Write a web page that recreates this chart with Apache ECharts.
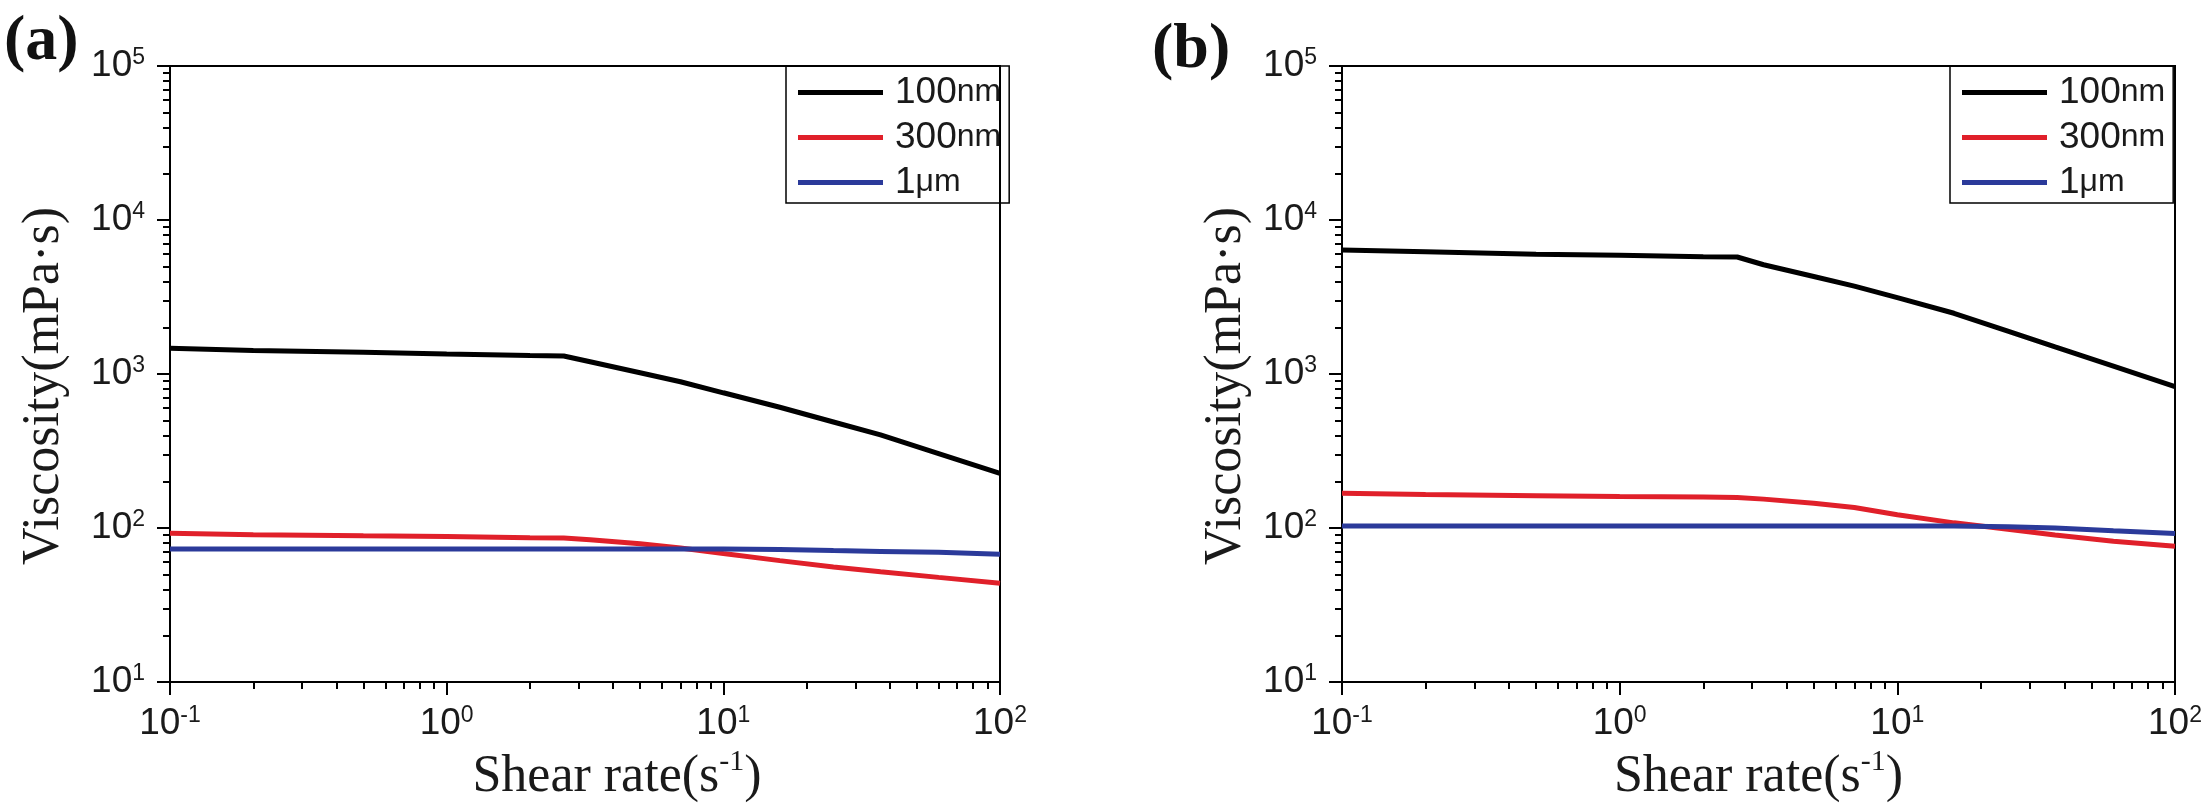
<!DOCTYPE html>
<html><head><meta charset="utf-8">
<script src="https://cdn.jsdelivr.net/npm/echarts@6/dist/echarts.min.js"></script>
<style>html,body{margin:0;padding:0;background:#fff}#c{width:2205px;height:809px}</style>
</head><body><div id="c"></div>
<script>
// ---- data ----
const shearRate = [0.1, 0.2, 0.5, 1, 2, 2.65, 3.3, 5, 7, 10, 16, 25, 37, 60, 100];
// panel (a)
const a_100nm = [1469, 1420, 1385, 1350, 1318, 1310, 1202, 1019, 891, 755, 608, 488, 402, 304, 226];
const a_300nm = [92.5, 90.5, 89, 88, 86.5, 86, 84, 78.9, 74.2, 68.2, 61.4, 55.8, 52, 47.8, 43.8];
const a_1um   = [73.1, 73.1, 73.1, 73.1, 73.1, 73.1, 73.1, 73.1, 73.1, 73, 72.5, 71.3, 70.5, 69.5, 67.5];
// panel (b)
const b_100nm = [6380, 6220, 6000, 5900, 5780, 5750, 5120, 4300, 3720, 3130, 2480, 1900, 1500, 1125, 828];
const b_300nm = [168, 165, 162, 160, 159, 158, 154, 145, 136, 122, 108, 98, 90, 82, 76];
const b_1um   = [103, 103, 103, 103, 103, 103, 103, 103, 103, 103, 103, 102, 100, 96, 92];

const seriesNames = ['100nm', '300nm', '1μm'];
const seriesColors = ['#000000', '#e0202a', '#2b3a9a'];
const panelLabels = ['(a)', '(b)'];
const xTitle = 'Shear rate';
const yTitle = 'Viscosity(mPa·s)';
const xRange = [0.1, 100];
const yRange = [10, 100000];
const xMinorTicks = [0.2,0.3,0.4,0.5,0.6,0.7,0.8,0.9, 2,3,4,5,6,7,8,9, 20,30,40,50,60,70,80,90];
const yMinorTicks = [20,30,40,50,60,70,80,90, 200,300,400,500,600,700,800,900,
                     2000,3000,4000,5000,6000,7000,8000,9000, 20000,30000,40000,50000,60000,70000,80000,90000];

// ---- styling / layout ----
const SANS = "'Liberation Sans', Arial, sans-serif";
const NARROW = "'Liberation Sans Narrow', 'Liberation Sans', Arial, sans-serif";
const SERIF = "'Liberation Serif', 'Times New Roman', serif";
const TXT = '#1a1a1a';

const grids = [
  {left: 170, right: 1205, top: 66, bottom: 127},
  {left: 1342, right: 30, top: 66, bottom: 127}
];
const yNameGap = [100, 90];
const xNamePad = [[0,0,0,64],[0,0,0,0]];

const tickRich = {
  b: {fontSize: 37, fontFamily: SANS, color: TXT, lineHeight: 40},
  s: {fontSize: 23, fontFamily: SANS, color: TXT, lineHeight: 22, verticalAlign: 'top'}
};
function powLabel(v) {
  const e = Math.round(Math.log10(v));
  return '{b|10}{s|' + e + '}';
}

const xAxis = [], yAxis = [];
grids.forEach((g, i) => {
  xAxis.push({
    type: 'log', logBase: 10, gridIndex: i, min: xRange[0], max: xRange[1], position: 'bottom',
    axisLine: {onZero: false, lineStyle: {color: '#000', width: 2}},
    axisTick: {length: 13, lineStyle: {color: '#000', width: 2}},
    axisLabel: {margin: 22, formatter: powLabel, rich: tickRich},
    splitLine: {show: false},
    name: '{t|' + xTitle + '(s}{s|-1}{t|)}',
    nameLocation: 'middle', nameGap: 64,
    nameTextStyle: {padding: xNamePad[i], rich: {
      t: {fontSize: 52, fontFamily: SERIF, color: TXT, lineHeight: 60},
      s: {fontSize: 30, fontFamily: SERIF, color: TXT, lineHeight: 30, verticalAlign: 'top'}
    }}
  });
  xAxis.push({
    type: 'log', logBase: 10, gridIndex: i, min: xRange[0], max: xRange[1], position: 'bottom',
    axisLine: {show: false, onZero: false},
    axisTick: {length: 7, customValues: xMinorTicks, lineStyle: {color: '#000', width: 2}},
    axisLabel: {show: false}, splitLine: {show: false}
  });
  yAxis.push({
    type: 'log', logBase: 10, gridIndex: i, min: yRange[0], max: yRange[1], position: 'left',
    axisLine: {onZero: false, lineStyle: {color: '#000', width: 2}},
    axisTick: {length: 13, lineStyle: {color: '#000', width: 2}},
    axisLabel: {margin: 25, formatter: powLabel, rich: tickRich},
    splitLine: {show: false},
    name: yTitle, nameLocation: 'middle', nameGap: yNameGap[i],
    nameTextStyle: {fontSize: 52, fontFamily: SERIF, color: TXT, padding: [0, 24, 0, 0]}
  });
  yAxis.push({
    type: 'log', logBase: 10, gridIndex: i, min: yRange[0], max: yRange[1], position: 'left',
    axisLine: {show: false, onZero: false},
    axisTick: {length: 7, customValues: yMinorTicks, lineStyle: {color: '#000', width: 2}},
    axisLabel: {show: false}, splitLine: {show: false}
  });
});

const panelData = [[a_100nm, a_300nm, a_1um], [b_100nm, b_300nm, b_1um]];
const series = [];
panelData.forEach((sets, p) => {
  sets.forEach((vals, k) => {
    series.push({
      type: 'line', name: seriesNames[k], xAxisIndex: p * 2, yAxisIndex: p * 2,
      data: shearRate.map((x, j) => [x, vals[j]]),
      showSymbol: false, symbol: 'none',
      lineStyle: {color: seriesColors[k], width: 5},
      itemStyle: {color: seriesColors[k]},
      animation: false
    });
  });
});

function legendFmt(name) {
  const m = name.match(/^(\d+)(.*)$/);
  return '{n|' + m[1] + '}{u|' + m[2] + '}';
}
const legendRich = {
  n: {fontSize: 37, fontFamily: SANS, color: TXT, lineHeight: 38, padding: [0, 0, 0, 7]},
  u: {fontSize: 32, fontFamily: NARROW, color: TXT, lineHeight: 38}
};
const legendPos = [{left: 786, top: 66}, {left: 1950, top: 66}];
const legend = legendPos.map(pos => ({
  left: pos.left, top: pos.top, orient: 'vertical', data: seriesNames,
  icon: 'rect', itemWidth: 85, itemHeight: 5, itemGap: 8,
  padding: [8, 8, 2, 12], borderColor: '#000', borderWidth: 1.5,
  formatter: legendFmt, textStyle: {rich: legendRich}, selectedMode: false
}));

const title = [
  {text: panelLabels[0], left: 4, top: 10, padding: 0,
   textStyle: {fontFamily: SERIF, fontWeight: 'bold', fontSize: 64, color: '#111'}},
  {text: panelLabels[1], left: 1152, top: 18, padding: 0,
   textStyle: {fontFamily: SERIF, fontWeight: 'bold', fontSize: 64, color: '#111'}}
];

const chart = echarts.init(document.getElementById('c'));
chart.setOption({
  backgroundColor: '#fff',
  animation: false,
  title: title,
  legend: legend,
  grid: grids.map(g => Object.assign({show: true, borderColor: '#000', borderWidth: 2, containLabel: false}, g)),
  xAxis: xAxis, yAxis: yAxis, series: series
});
</script></body></html>
